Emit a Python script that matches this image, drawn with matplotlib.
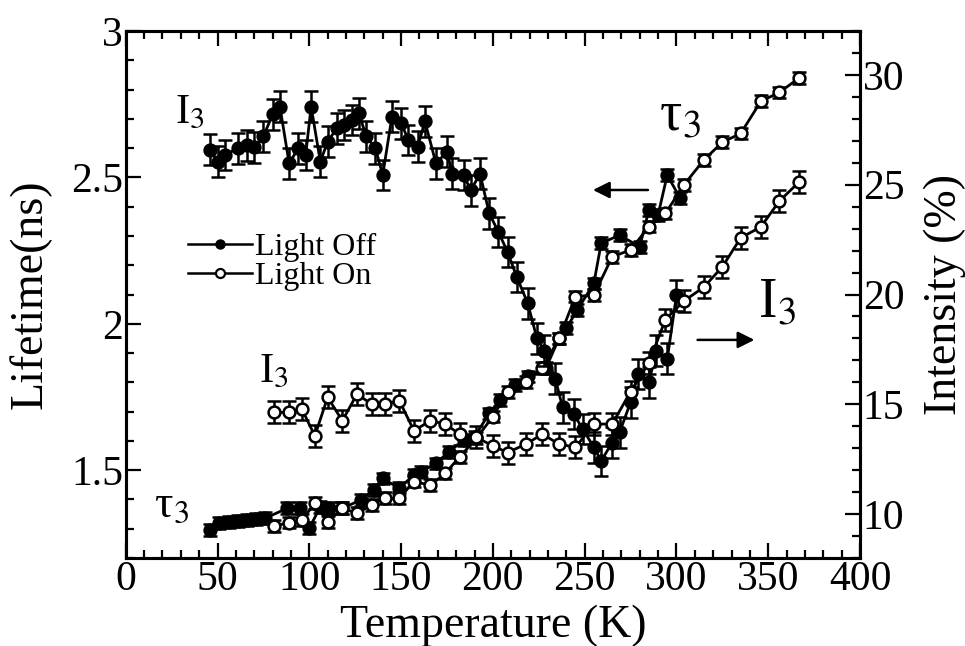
import matplotlib
matplotlib.use('Agg')
import matplotlib.pyplot as plt
from matplotlib.lines import Line2D
from matplotlib.ticker import MultipleLocator, FormatStrFormatter

# tau3, light off (left axis, ns)
tau_off_T = [46, 51, 56, 61, 66, 71, 76, 88, 95, 100, 106, 111, 118,
             128, 135, 140, 149, 157, 161, 169, 176, 184, 190, 198, 204,
             212, 219, 229, 236, 240, 246, 255, 259, 269, 280, 285, 290,
             295, 302]
tau_off = [1.296, 1.319, 1.322, 1.326, 1.330, 1.333, 1.336, 1.370, 1.370,
           1.302, 1.375, 1.370, 1.370, 1.398, 1.432, 1.472, 1.438, 1.484,
           1.495, 1.523, 1.563, 1.603, 1.614, 1.694, 1.740, 1.791, 1.82,
           1.85, 1.95, 1.985, 2.047, 2.138, 2.275, 2.303, 2.263, 2.389,
           2.372, 2.508, 2.429]

# light on: tau3 (left axis) and I3 (right axis) share temperatures
on_T = [81, 89, 96, 103, 110, 118, 126, 134, 141, 149, 157, 166, 174,
        182, 191, 200, 208, 218, 227, 236, 245, 255, 265, 275, 285, 294,
        304, 315, 325, 335, 346, 356, 367]
tau_on = [1.309, 1.321, 1.330, 1.387, 1.324, 1.370, 1.353, 1.381, 1.404,
          1.404, 1.461, 1.449, 1.489, 1.546, 1.609, 1.683, 1.768, 1.802,
          1.848, 1.950, 2.093, 2.098, 2.229, 2.252, 2.332, 2.377, 2.474,
          2.56, 2.62, 2.65, 2.76, 2.79, 2.84]
i3_on = [14.63, 14.63, 14.78, 13.56, 15.32, 14.25, 15.47, 15.0, 15.0,
         15.17, 13.8, 14.25, 14.1, 13.64, 13.49, 13.11, 12.8, 13.19,
         13.64, 13.19, 13.04, 14.1, 14.1, 15.57, 16.89, 18.86, 19.7,
         20.34, 21.26, 22.58, 23.08, 24.25, 25.14]

# I3, light off (right axis, %)
i3_off_T = [46, 50, 54, 61, 66, 70, 75, 80, 84, 89, 94, 98, 101, 106, 110,
            115, 119, 123, 127, 131, 136, 140, 145, 150, 154, 159, 163, 169,
            175, 178, 184, 188, 193, 198, 203, 208, 213, 219, 224, 228, 234,
            238, 244, 249, 255, 259, 265, 269, 275, 279, 285, 289, 295, 300]
i3_off = [26.6, 26.05, 26.35, 26.66, 26.8, 26.7, 27.2, 28.2, 28.56, 25.97,
          26.66, 26.35, 28.56, 26.05, 26.96, 27.57, 27.72, 27.95, 28.26,
          27.2, 26.66, 25.44, 28.1, 27.8, 27.04, 26.73, 27.88, 25.97, 26.5,
          25.5, 25.44, 24.75, 25.5, 23.7, 22.85, 21.94, 20.8, 19.6, 18.0,
          17.45, 16.16, 14.86, 14.56, 13.87, 13.04, 12.42, 13.26, 13.72,
          15.09, 16.38, 16.0, 17.45, 17.07, 19.96]

tau_err = 0.02
i3_off_err = 0.7
i3_on_err = 0.5

plt.rcParams['font.family'] = ['Liberation Serif', 'DejaVu Serif']
plt.rcParams['mathtext.fontset'] = 'stix'

fig = plt.figure(figsize=(9.65, 6.46), dpi=100)
ax = fig.add_axes([0.1303, 0.1362, 0.7609, 0.8158])
ax2 = ax.twinx()

kw = dict(color='black', lw=2, ms=8.5, capsize=5, capthick=1.8,
          elinewidth=1.8, mec='black', mew=1.8)
ax.errorbar(tau_off_T, tau_off, yerr=tau_err, fmt='-o', mfc='black', **kw)
ax.errorbar(on_T, tau_on, yerr=tau_err, fmt='-o', mfc='white', **kw)
ax2.errorbar(i3_off_T, i3_off, yerr=i3_off_err, fmt='-o', mfc='black', **kw)
ax2.errorbar(on_T, i3_on, yerr=i3_on_err, fmt='-o', mfc='white', **kw)

ax.set_xlim(0, 400)
ax.set_ylim(1.2, 3.0)
ax2.set_ylim(8, 32)

ax.xaxis.set_major_locator(MultipleLocator(50))
ax.xaxis.set_minor_locator(MultipleLocator(10))
ax.yaxis.set_major_locator(MultipleLocator(0.5))
ax.yaxis.set_minor_locator(MultipleLocator(0.1))
ax.yaxis.set_major_formatter(FormatStrFormatter('%g'))
ax2.yaxis.set_major_locator(MultipleLocator(5))
ax2.yaxis.set_minor_locator(MultipleLocator(1))

for a in (ax, ax2):
    a.tick_params(which='both', direction='in', width=1.6, labelsize=30, pad=2)
    a.tick_params(which='major', length=11)
    a.tick_params(which='minor', length=6)
    for s in a.spines.values():
        s.set_linewidth(2.2)
ax.tick_params(which='both', top=True)

ax.set_xlabel('Temperature (K)', fontsize=33, labelpad=4)
ax.set_ylabel('Lifetime(ns)', fontsize=33, labelpad=14)
ax2.set_ylabel('Intensity (%)', fontsize=33, labelpad=14)

ax.text(35, 2.72, 'I$_3$', fontsize=31, ha='center', va='center')
ax.text(81, 1.835, 'I$_3$', fontsize=31, ha='center', va='center')
ax.text(25, 1.38, 'τ$_3$', fontsize=33, ha='center', va='center')
ax.text(302, 2.71, 'τ$_3$', fontsize=40, ha='center', va='center')
ax.text(355, 2.07, 'I$_3$', fontsize=40, ha='center', va='center')

arrow = dict(arrowstyle='-|>', color='black', lw=1.8, mutation_scale=25)
ax.annotate('', xy=(253, 2.457), xytext=(286, 2.457), arrowprops=arrow)
ax.annotate('', xy=(344, 1.945), xytext=(310, 1.945), arrowprops=arrow)

handles = [Line2D([], [], color='black', lw=1.8, marker='o', ms=6.5,
                  mfc='black', mec='black'),
           Line2D([], [], color='black', lw=1.8, marker='o', ms=6.5,
                  mfc='white', mec='black', mew=1.6)]
ax2.legend(handles, ['Light Off', 'Light On'], loc='center left',
           bbox_to_anchor=(0.085, 0.562), bbox_transform=ax.transAxes,
           frameon=False, fontsize=23, handlelength=2.0, handletextpad=0.1,
           labelspacing=0, borderpad=0, borderaxespad=0)

fig.savefig('out.png', dpi=100)
